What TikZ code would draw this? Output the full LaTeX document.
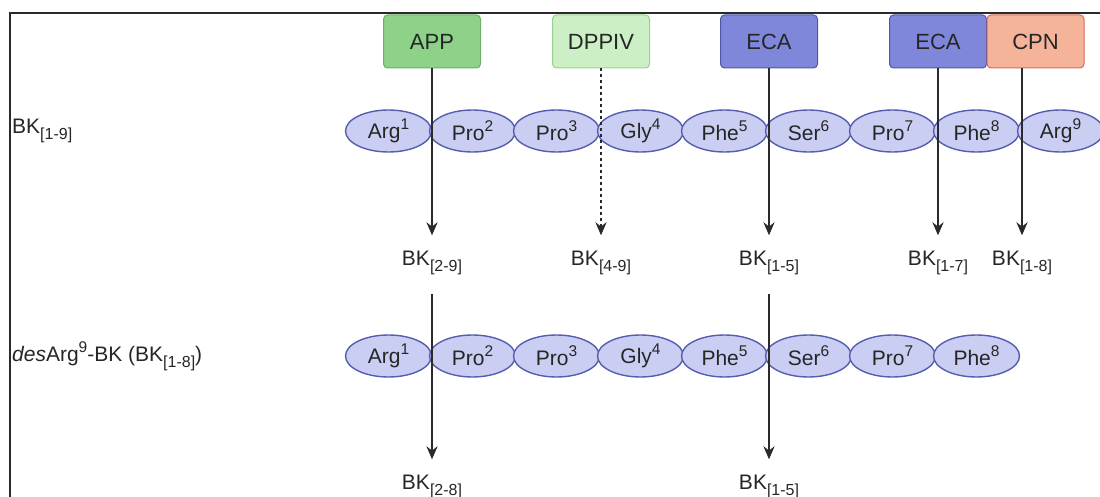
\documentclass[tikz,border=0pt]{standalone}
\usepackage{fontspec}
\setmainfont{Liberation Sans}
\usetikzlibrary{shapes.geometric,arrows.meta}

% Couleurs des enzymes et des residus
\definecolor{vertapp}{HTML}{8ED28A}
\definecolor{bordapp}{HTML}{6CB068}
\definecolor{vertdpp}{HTML}{CDEFC6}
\definecolor{borddpp}{HTML}{98D18F}
\definecolor{bleueca}{HTML}{7F87DB}
\definecolor{bordeca}{HTML}{4E57A8}
\definecolor{saumcpn}{HTML}{F5B49A}
\definecolor{bordcpn}{HTML}{D96B57}
\definecolor{fondres}{HTML}{CACEF2}
\definecolor{bordres}{HTML}{555DAE}
\definecolor{gristrait}{HTML}{2A2A2A}

% Indices et exposants
\newcommand{\ind}[1]{\raisebox{-0.3em}{\fontsize{16}{16}\selectfont #1}}
\newcommand{\expo}[1]{\raisebox{0.42em}{\fontsize{15.5}{15.5}\selectfont #1}}

\begin{document}
\begin{tikzpicture}[x=1pt,y=-1pt,
  enzyme/.style={draw,rounded corners=4pt,minimum width=97pt,minimum height=53pt,
    inner sep=0pt,line width=1pt,text=black!85,font=\fontsize{22}{22}\selectfont},
  residu/.style={ellipse,draw=bordres,fill=fondres,line width=1.4pt,minimum width=86pt,
    minimum height=42pt,inner sep=0pt,text=black!85,font=\fontsize{21}{21}\selectfont},
  fragment/.style={anchor=base,inner sep=2pt,text=black!85,font=\fontsize{21}{21}\selectfont},
  coupure/.style={-{Stealth[length=13pt,width=11pt]},line width=2.2pt,draw=gristrait}]
  \useasboundingbox (0,0) rectangle (1100,497);
  % Cadre
  \draw[line width=1.8pt,gristrait] (10,497) -- (10,13) -- (1100,13);

  % Enzymes
  \node[enzyme,draw=bordapp,fill=vertapp] (app) at (432,41.5) {APP};
  \node[enzyme,draw=borddpp,fill=vertdpp] (dppiv) at (601,41.5) {DPPIV};
  \node[enzyme,draw=bordeca,fill=bleueca] (ecaA) at (769,41.5) {ECA};
  \node[enzyme,draw=bordeca,fill=bleueca] (ecaB) at (938,41.5) {ECA};
  \node[enzyme,draw=bordcpn,fill=saumcpn] (cpn) at (1035.5,41.5) {CPN};

  % Peptides
  \node[anchor=west,inner sep=0pt,text=black!85,font=\fontsize{21}{21}\selectfont]
    (bk) at (12,131) {BK\ind{[1-9]}};
  \node[anchor=west,inner sep=0pt,text=black!85,font=\fontsize{21}{21}\selectfont]
    (desbk) at (12,356) {\textit{des}Arg\expo{9}-BK (BK\ind{[1-8]})};
  \foreach \nom [count=\i] in {Arg,Pro,Pro,Gly,Phe,Ser,Pro,Phe,Arg}
    \node[residu] (a\i) at ({388.5+84*(\i-1)},131) {\nom\expo{\i}};
  \foreach \nom [count=\i] in {Arg,Pro,Pro,Gly,Phe,Ser,Pro,Phe}
    \node[residu] (b\i) at ({388.5+84*(\i-1)},356) {\nom\expo{\i}};

  % Fragments
  \node[fragment] (bk29) at (432,265) {BK\ind{[2-9]}};
  \node[fragment] (bk49) at (601,265) {BK\ind{[4-9]}};
  \node[fragment] (bk15) at (769,265) {BK\ind{[1-5]}};
  \node[fragment] (bk17) at (938,265) {BK\ind{[1-7]}};
  \node[fragment] (bk18) at (1022,265) {BK\ind{[1-8]}};
  \node[fragment] (bk28) at (432,489) {BK\ind{[2-8]}};
  \node[fragment] (bk15b) at (769,489) {BK\ind{[1-5]}};

  % Sites de coupure
  \draw[coupure,shorten >=13pt] (app) -- (bk29);
  \draw[coupure,dashed,shorten >=13pt] (dppiv) -- (bk49);
  \draw[coupure,shorten >=13pt] (ecaA) -- (bk15);
  \draw[coupure,shorten >=13pt] (ecaB) -- (bk17);
  \draw[coupure,shorten >=13pt] (bk18 |- cpn.south) -- (bk18);
  \draw[coupure,shorten <=17pt,shorten >=13pt] (bk29) -- (bk28);
  \draw[coupure,shorten <=17pt,shorten >=13pt] (bk15) -- (bk15b);
\end{tikzpicture}
\end{document}
